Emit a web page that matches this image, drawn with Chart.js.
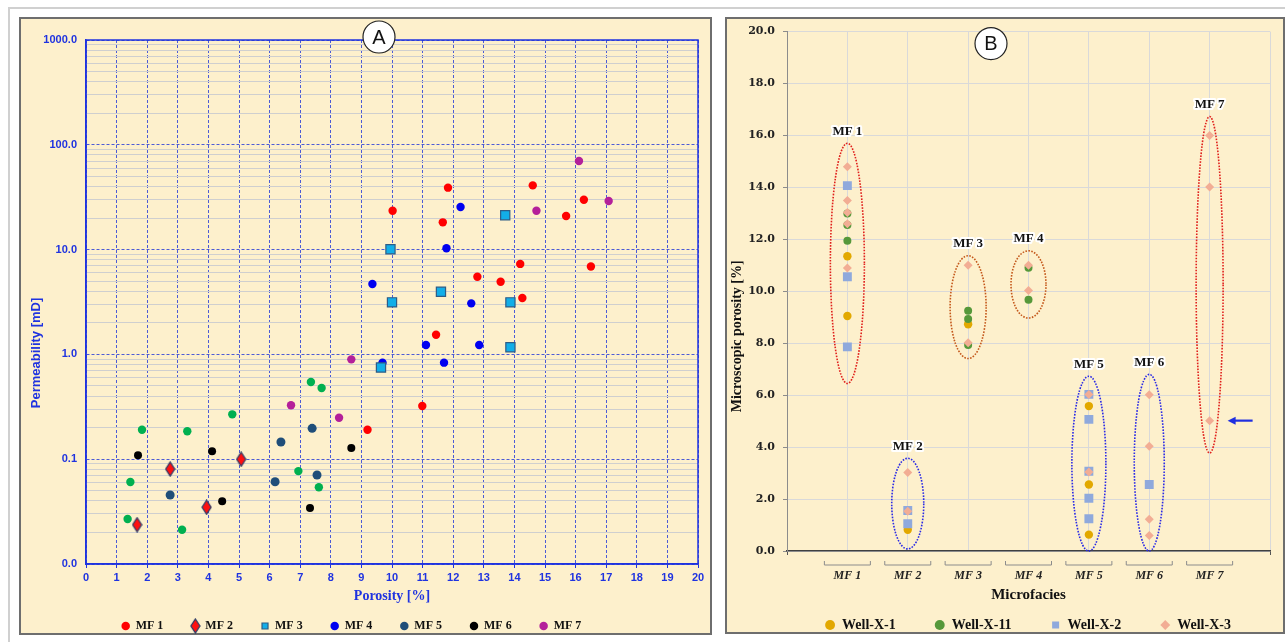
<!DOCTYPE html>
<html>
<head>
<meta charset="utf-8">
<script src="https://cdn.jsdelivr.net/npm/chart.js@4"></script>
<style>
  body { margin: 0; background: #fff; width: 1285px; height: 642px; overflow: hidden; position: relative; }
  .edge { position: absolute; left: 8px; top: 7px; right: -10px; bottom: -10px; border-top: 2px solid #d0d0d0; border-left: 2px solid #d0d0d0; }
  .panel { position: absolute; background: #fdf0cc; border: 2px solid #6e6e6e; box-sizing: border-box; }
  #panelA { left: 19px; top: 17px; width: 693px; height: 618px; }
  #panelB { left: 725px; top: 17px; width: 560px; height: 617px; }
  canvas { position: absolute; }
  #permChart { left: 5px; top: 17px; }
  #microChart { left: 725px; top: 17px; }
</style>
</head>
<body>
<div class="edge"></div>
<div class="panel" id="panelA"></div>
<div class="panel" id="panelB"></div>
<canvas id="permChart" width="707" height="625"></canvas>
<canvas id="microChart" width="559" height="625"></canvas>
<script>
// ---- A: porosity [%] vs permeability [mD] per microfacies ----
const mf1Porosity = [10.02, 14.6, 11.83, 16.27, 15.69, 11.66, 14.19, 16.5, 12.79, 13.55, 14.26, 11.44, 10.99, 9.2];
const mf1Perm     = [23.5, 41, 39, 29.9, 20.9, 18.2, 7.3, 6.9, 5.5, 4.94, 3.45, 1.54, 0.322, 0.191];
const mf2Porosity = [1.67, 2.75, 3.94, 5.07];
const mf2Perm     = [0.0237, 0.0806, 0.0348, 0.1];
const mf3Porosity = [9.95, 10.0, 11.6, 13.7, 13.87, 13.87, 9.64];
const mf3Perm     = [10.07, 3.14, 3.96, 21.3, 3.14, 1.17, 0.75];
const mf4Porosity = [9.36, 12.24, 11.78, 12.59, 11.11, 12.85, 9.69, 11.7];
const mf4Perm     = [4.7, 25.5, 10.3, 3.07, 1.23, 1.23, 0.834, 0.834];
const mf5Porosity = [7.39, 6.37, 7.55, 6.18, 2.75];
const mf5Perm     = [0.197, 0.146, 0.0706, 0.061, 0.0455];
const mf6Porosity = [8.67, 4.12, 1.7, 4.45, 7.32];
const mf6Perm     = [0.128, 0.119, 0.109, 0.0396, 0.0342];
const mf7Porosity = [16.11, 17.08, 14.72, 8.67, 6.7, 8.27];
const mf7Perm     = [70, 29.1, 23.5, 0.897, 0.327, 0.249];
const otherPorosity = [1.83, 3.31, 4.78, 7.35, 7.7, 6.94, 1.45, 7.61, 1.36, 3.14];
const otherPerm     = [0.191, 0.185, 0.268, 0.546, 0.478, 0.077, 0.0605, 0.054, 0.0269, 0.0212];

const permTickValues = [0.01, 0.1, 1, 10, 100, 1000];
const permTickLabels = ['0.0', '0.1', '1.0', '10.0', '100.0', '1000.0'];

// ---- B: microscopic porosity per microfacies and well ----
const microfacies = ['MF 1', 'MF 2', 'MF 3', 'MF 4', 'MF 5', 'MF 6', 'MF 7'];
const wellX1  = [[11.35, 9.05], [0.82], [8.73], [], [5.58, 2.56, 0.63], [], []];
const wellX11 = [[13.0, 12.55, 11.95], [], [9.25, 8.93, 7.93], [10.91, 9.67], [], [], []];
const wellX2  = [[14.07, 10.56, 7.86], [1.56, 1.05], [], [], [6.03, 5.07, 3.07, 2.03, 1.24], [2.56], []];
const wellX3  = [[14.8, 13.5, 13.03, 12.6, 10.9], [3.02, 1.53], [11.0, 8.02], [11.0, 10.03], [6.03, 3.04], [6.02, 4.03, 1.22, 0.6], [16.0, 14.02, 5.02]];

// outline of each microfacies group (top / bottom in porosity units)
const groupTop    = [15.7, 3.57, 11.37, 11.56, 6.73, 6.8, 16.73];
const groupBottom = [6.45, 0.08, 7.41, 8.97, 0.0, 0.0, 3.77];

const BLUE = '#1f33e0';
const GRID_BLUE = 'rgba(45, 65, 215, 0.85)';

const isDecade = v => Math.abs(Math.log10(v) - Math.round(Math.log10(v))) < 1e-6;
const pairUp = (xs, ys) => xs.map((x, i) => ({ x, y: ys[i] }));

// log grid: 1..9 of every decade
const permGrid = [];
for (let e = -2; e <= 2; e++) {
  for (let k = 1; k <= 9; k++) permGrid.push(+(k * Math.pow(10, e)).toPrecision(3));
}
permGrid.push(1000);

function diamondMarker(w, h, fill, stroke) {
  const c = document.createElement('canvas');
  c.width = w + 2;
  c.height = h + 2;
  const g = c.getContext('2d');
  g.beginPath();
  g.moveTo(c.width / 2, 1);
  g.lineTo(c.width - 1, c.height / 2);
  g.lineTo(c.width / 2, c.height - 1);
  g.lineTo(1, c.height / 2);
  g.closePath();
  g.fillStyle = fill;
  g.fill();
  g.lineWidth = 1.3;
  g.strokeStyle = stroke;
  g.stroke();
  return c;
}

function pointSet(label, xs, ys, color, style, radius, edge) {
  return {
    label,
    data: pairUp(xs, ys),
    pointStyle: style,
    pointRadius: radius,
    backgroundColor: color,
    borderColor: edge || color,
    borderWidth: edge ? 1.2 : 0
  };
}

const sideTitle = (id, text, font, color, dx, dy) => ({
  id,
  afterDraw(chart) {
    const { ctx, chartArea: a } = chart;
    ctx.save();
    ctx.translate(a.left - dx, (a.top + a.bottom) / 2 + dy);
    ctx.rotate(-Math.PI / 2);
    ctx.font = font;
    ctx.fillStyle = color;
    ctx.textAlign = 'center';
    ctx.textBaseline = 'middle';
    ctx.fillText(text, 0, 0);
    ctx.restore();
  }
});

const badge = (letter, dx, dy) => ({
  id: 'badge' + letter,
  afterDraw(chart) {
    const { ctx, chartArea: a } = chart;
    const x = a.left + dx, y = a.top + dy;
    ctx.save();
    ctx.beginPath();
    ctx.arc(x, y, 16, 0, Math.PI * 2);
    ctx.fillStyle = '#fff';
    ctx.fill();
    ctx.lineWidth = 1.2;
    ctx.strokeStyle = '#222';
    ctx.stroke();
    ctx.fillStyle = '#111';
    ctx.font = '20px "Liberation Sans"';
    ctx.textAlign = 'center';
    ctx.textBaseline = 'middle';
    ctx.fillText(letter, x, y + 1);
    ctx.restore();
  }
});

const plotFrame = {
  id: 'plotFrame',
  beforeDatasetsDraw(chart) {
    const { ctx, chartArea: a } = chart;
    ctx.save();
    ctx.strokeStyle = BLUE;
    ctx.lineWidth = 1.5;
    ctx.strokeRect(a.left, a.top, a.right - a.left, a.bottom - a.top);
    ctx.restore();
  }
};

new Chart(document.getElementById('permChart'), {
  type: 'scatter',
  data: {
    datasets: [
      pointSet('MF 1', mf1Porosity, mf1Perm, '#ff0000', 'circle', 4.2),
      pointSet('MF 2', mf2Porosity, mf2Perm, '#ff0000', diamondMarker(9, 14, '#ff1010', '#2f3b66'), 5),
      pointSet('MF 3', mf3Porosity, mf3Perm, '#12aee8', 'rect', 6.5, '#2d5c86'),
      pointSet('MF 4', mf4Porosity, mf4Perm, '#0000f0', 'circle', 4.2),
      pointSet('MF 5', mf5Porosity, mf5Perm, '#1f4e79', 'circle', 4.5),
      pointSet('MF 6', mf6Porosity, mf6Perm, '#000000', 'circle', 4),
      pointSet('MF 7', mf7Porosity, mf7Perm, '#b4209a', 'circle', 4.2),
      pointSet('', otherPorosity, otherPerm, '#00b050', 'circle', 4.2)
    ]
  },
  options: {
    responsive: false,
    animation: false,
    events: [],
    layout: { padding: { top: 23, right: 14, left: 0, bottom: 0 } },
    scales: {
      x: {
        type: 'linear',
        min: 0,
        max: 20,
        afterFit: s => { s.height = 28; },
        ticks: {
          stepSize: 1,
          autoSkip: false,
          maxRotation: 0,
          padding: 3,
          color: BLUE,
          font: { family: 'Liberation Sans', size: 11, weight: 'bold' }
        },
        grid: { color: GRID_BLUE, lineWidth: 1, tickLength: 4, tickColor: BLUE },
        border: { color: BLUE, width: 1.5, dash: [3, 2] },
        title: {
          display: true,
          text: 'Porosity [%]',
          color: BLUE,
          font: { family: 'Liberation Serif', size: 14, weight: 'bold' },
          padding: { top: 0, bottom: -13 }
        }
      },
      y: {
        type: 'logarithmic',
        min: 0.01,
        max: 1000,
        afterBuildTicks: s => { s.ticks = permGrid.map(value => ({ value })); },
        afterFit: s => { s.width = 81; },
        ticks: {
          autoSkip: false,
          padding: 9,
          color: BLUE,
          font: { family: 'Liberation Sans', size: 11, weight: 'bold' },
          callback: v => {
            const i = permTickValues.findIndex(t => Math.abs(t - v) < t * 1e-6);
            return i < 0 ? '' : permTickLabels[i];
          }
        },
        grid: {
          drawTicks: false,
          lineWidth: 1,
          color: c => (c.tick && isDecade(c.tick.value)) ? GRID_BLUE : '#cfcfcf'
        },
        border: {
          color: BLUE,
          width: 1.5,
          dash: c => (c.tick && isDecade(c.tick.value)) ? [3, 2] : []
        }
      }
    },
    plugins: {
      tooltip: { enabled: false },
      legend: {
        position: 'bottom',
        labels: {
          usePointStyle: true,
          boxWidth: 8,
          boxHeight: 6,
          padding: 28,
          color: '#111',
          font: { family: 'Liberation Serif', size: 12, weight: 'bold' },
          filter: item => item.text !== ''
        }
      }
    }
  },
  plugins: [plotFrame, sideTitle('permTitle', 'Permeability [mD]', 'bold 13px "Liberation Sans"', BLUE, 50, 51), badge('A', 293, -3)]
});

// ---- B ----
function wellSet(label, values, color, style, radius, order) {
  return {
    label,
    order,
    data: values.flatMap((vals, i) => vals.map(y => ({ x: i + 1, y }))),
    backgroundColor: color,
    borderColor: color,
    borderWidth: 0,
    pointStyle: style,
    pointRadius: radius
  };
}

const groupColors = ['#e0201c', '#2a2ae6', '#c4581b', '#c4581b', '#2a2ae6', '#2a2ae6', '#e0201c'];

const groupOutlines = {
  id: 'groupOutlines',
  afterDatasetsDraw(chart) {
    const { ctx, scales: { x, y } } = chart;
    ctx.save();
    microfacies.forEach((name, i) => {
      const cx = x.getPixelForValue(i + 1);
      const top = y.getPixelForValue(groupTop[i]);
      const bottom = y.getPixelForValue(groupBottom[i]);
      const rx = [17, 16, 18, 17.5, 17, 15, 13.5][i];
      ctx.beginPath();
      ctx.setLineDash([1.6, 1.4]);
      ctx.lineWidth = 1.6;
      ctx.strokeStyle = groupColors[i];
      ctx.ellipse(cx, (top + bottom) / 2, rx, (bottom - top) / 2, 0, 0, Math.PI * 2);
      ctx.stroke();

      ctx.setLineDash([]);
      ctx.font = 'bold 13px "Liberation Serif"';
      ctx.textAlign = 'center';
      ctx.textBaseline = 'middle';
      ctx.lineJoin = 'round';
      ctx.lineWidth = 4;
      ctx.strokeStyle = '#fff';
      ctx.strokeText(name, cx, top - 12);
      ctx.fillStyle = '#111';
      ctx.fillText(name, cx, top - 12);
    });

    // arrow pointing at the lowest MF 7 sample
    const last = wellX3.length - 1;
    const ax = x.getPixelForValue(last + 1) + 18;
    const ay = y.getPixelForValue(Math.min(...wellX3[last]));
    ctx.strokeStyle = '#1f2fe0';
    ctx.fillStyle = '#1f2fe0';
    ctx.lineWidth = 2.2;
    ctx.beginPath();
    ctx.moveTo(ax + 25, ay);
    ctx.lineTo(ax + 5, ay);
    ctx.stroke();
    ctx.beginPath();
    ctx.moveTo(ax, ay);
    ctx.lineTo(ax + 8, ay - 4);
    ctx.lineTo(ax + 8, ay + 4);
    ctx.closePath();
    ctx.fill();
    ctx.restore();
  }
};

const categoryBrackets = {
  id: 'categoryBrackets',
  afterDraw(chart) {
    const { ctx, chartArea: a, scales: { x } } = chart;
    ctx.save();
    ctx.strokeStyle = '#8c8c8c';
    ctx.lineWidth = 1;
    ctx.beginPath();
    microfacies.forEach((_, i) => {
      const cx = x.getPixelForValue(i + 1);
      ctx.moveTo(cx - 23, a.bottom + 10);
      ctx.lineTo(cx - 23, a.bottom + 14);
      ctx.lineTo(cx + 23, a.bottom + 14);
      ctx.lineTo(cx + 23, a.bottom + 10);
    });
    ctx.stroke();
    ctx.restore();
  }
};

// legend row sits a little right of the canvas centre
const legendShift = {
  id: 'legendShift',
  afterLayout(chart) {
    chart.legend.left += 24;
    chart.legend.right += 24;
  }
};

new Chart(document.getElementById('microChart'), {
  type: 'scatter',
  data: {
    datasets: [
      wellSet('Well-X-1', wellX1, '#e2a800', 'circle', 4.2, 4),
      wellSet('Well-X-11', wellX11, '#56983a', 'circle', 4, 3),
      wellSet('Well-X-2', wellX2, '#8fa9dc', 'rect', 6.3, 2),
      wellSet('Well-X-3', wellX3, '#f2ad94', 'rectRot', 4.5, 1)
    ]
  },
  options: {
    responsive: false,
    animation: false,
    events: [],
    layout: { padding: { top: 8, right: 1, left: 0, bottom: 0 } },
    scales: {
      x: {
        type: 'linear',
        min: 0,
        max: 8,
        afterFit: s => { s.height = 28; },
        ticks: {
          stepSize: 1,
          autoSkip: false,
          maxRotation: 0,
          padding: 14,
          color: '#222',
          font: { family: 'Liberation Serif', size: 12, style: 'italic', weight: 'bold' },
          callback: v => microfacies[v - 1] || ''
        },
        grid: {
          color: '#d9d9d9',
          lineWidth: 1,
          tickLength: 4,
          tickColor: c => (c.tick && (c.tick.value === 0 || c.tick.value === 8)) ? '#555' : 'rgba(0,0,0,0)'
        },
        border: { color: '#404040', width: 1.5 },
        title: {
          display: true,
          text: 'Microfacies',
          color: '#111',
          font: { family: 'Liberation Serif', size: 15, weight: 'bold' },
          padding: { top: 0, bottom: -25 }
        }
      },
      y: {
        min: 0,
        max: 20,
        afterFit: s => { s.width = 62; },
        ticks: {
          stepSize: 2,
          padding: 8,
          color: '#222',
          font: { family: 'DejaVu Serif', size: 11, weight: 'bold' },
          callback: v => v.toFixed(1)
        },
        grid: { color: '#d9d9d9', lineWidth: 1, tickLength: 4, tickColor: '#8c8c8c' },
        border: { color: '#8c8c8c', width: 1 }
      }
    },
    plugins: {
      tooltip: { enabled: false },
      legend: {
        position: 'bottom',
        reverse: true,
        labels: {
          usePointStyle: true,
          boxWidth: 10,
          boxHeight: 7,
          padding: 39,
          color: '#111',
          font: { family: 'Liberation Serif', size: 14, weight: 'bold' }
        }
      }
    }
  },
  plugins: [legendShift, groupOutlines, categoryBrackets, sideTitle('poroTitle', 'Microscopic porosity [%]', 'bold 14px "Liberation Serif"', '#111', 50, 45), badge('B', 204, 12)]
});
</script>
</body>
</html>
